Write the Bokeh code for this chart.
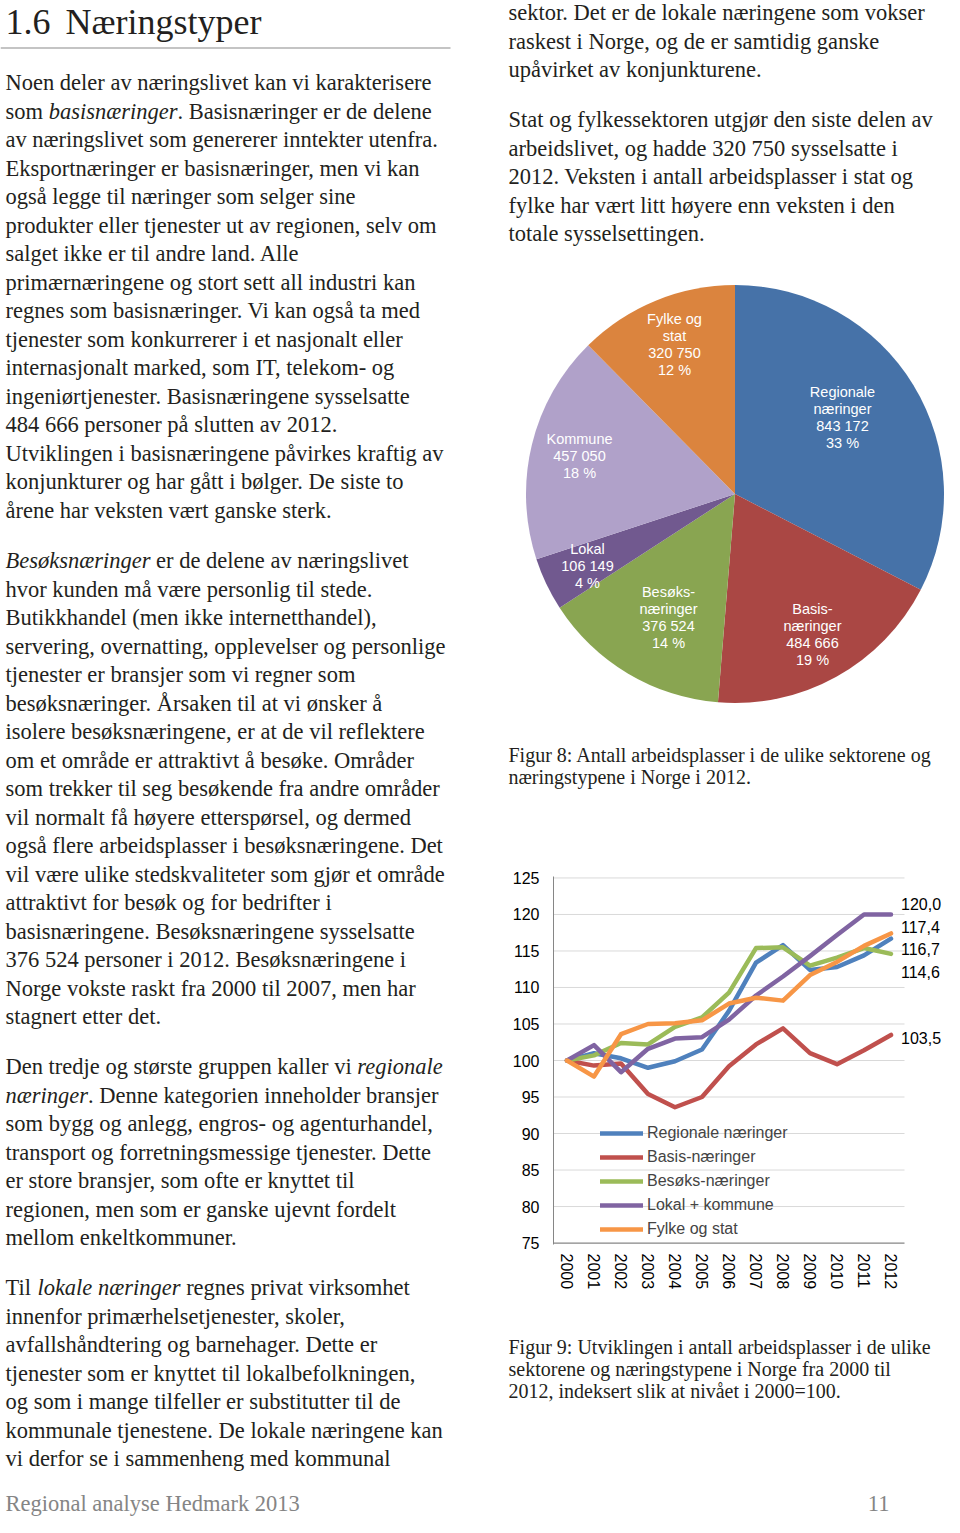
import math
import numpy as np
from bokeh.plotting import figure
from bokeh.models import Range1d, FixedTicker
from bokeh.layouts import row, column
from bokeh.embed import file_html
from bokeh.resources import INLINE
from bokeh.core.properties import value

# ---------------- data ----------------
pie_label_names = [["Regionale", "næringer"], ["Basis-", "næringer"], ["Besøks-", "næringer"],
                   ["Lokal"], ["Kommune"], ["Fylke og", "stat"]]
pie_values = [843172, 484666, 376524, 106149, 457050, 320750]
pie_percents = [33, 19, 14, 4, 18, 12]
pie_colors = ["#4672A8", "#AA4744", "#89A551", "#71598F", "#B0A1C9", "#DB843E"]

years = [2000, 2001, 2002, 2003, 2004, 2005, 2006, 2007, 2008, 2009, 2010, 2011, 2012]
regionale = [100.0, 101.0, 100.3, 99.0, 99.9, 101.5, 106.8, 113.4, 115.8, 112.4, 112.8, 114.4, 116.7]
basis = [100.0, 99.3, 99.6, 95.4, 93.6, 95.0, 99.2, 102.2, 104.4, 101.0, 99.5, 101.4, 103.5]
besoks = [100.0, 100.7, 102.4, 102.2, 104.6, 105.9, 109.3, 115.4, 115.5, 113.0, 114.1, 115.4, 114.6]
lokal_kommune = [100.0, 102.1, 98.4, 101.6, 103.0, 103.2, 105.6, 108.9, 111.5, 114.3, 117.2, 120.0, 120.0]
fylke_stat = [100.0, 97.8, 103.6, 105.0, 105.1, 105.5, 107.8, 108.6, 108.2, 111.7, 113.5, 115.7, 117.4]
series_names = ["Regionale næringer", "Basis-næringer", "Besøks-næringer", "Lokal + kommune", "Fylke og stat"]
series_colors = ["#4F81BD", "#C0504D", "#9BBB59", "#8064A2", "#F79646"]
y_ticks = [75, 80, 85, 90, 95, 100, 105, 110, 115, 120, 125]

title_num = "1.6"
title_text = "Næringstyper"
left_paras = [
    ["Noen deler av næringslivet kan vi karakterisere",
     "som *basisnæringer*. Basisnæringer er de delene",
     "av næringslivet som genererer inntekter utenfra.",
     "Eksportnæringer er basisnæringer, men vi kan",
     "også legge til næringer som selger sine",
     "produkter eller tjenester ut av regionen, selv om",
     "salget ikke er til andre land. Alle",
     "primærnæringene og stort sett all industri kan",
     "regnes som basisnæringer. Vi kan også ta med",
     "tjenester som konkurrerer i et nasjonalt eller",
     "internasjonalt marked, som IT, telekom- og",
     "ingeniørtjenester. Basisnæringene sysselsatte",
     "484 666 personer på slutten av 2012.",
     "Utviklingen i basisnæringene påvirkes kraftig av",
     "konjunkturer og har gått i bølger. De siste to",
     "årene har veksten vært ganske sterk."],
    ["*Besøksnæringer* er de delene av næringslivet",
     "hvor kunden må være personlig til stede.",
     "Butikkhandel (men ikke internetthandel),",
     "servering, overnatting, opplevelser og personlige",
     "tjenester er bransjer som vi regner som",
     "besøksnæringer. Årsaken til at vi ønsker å",
     "isolere besøksnæringene, er at de vil reflektere",
     "om et område er attraktivt å besøke. Områder",
     "som trekker til seg besøkende fra andre områder",
     "vil normalt få høyere etterspørsel, og dermed",
     "også flere arbeidsplasser i besøksnæringene. Det",
     "vil være ulike stedskvaliteter som gjør et område",
     "attraktivt for besøk og for bedrifter i",
     "basisnæringene. Besøksnæringene sysselsatte",
     "376 524 personer i 2012. Besøksnæringene i",
     "Norge vokste raskt fra 2000 til 2007, men har",
     "stagnert etter det."],
    ["Den tredje og største gruppen kaller vi *regionale*",
     "*næringer*. Denne kategorien inneholder bransjer",
     "som bygg og anlegg, engros- og agenturhandel,",
     "transport og forretningsmessige tjenester. Dette",
     "er store bransjer, som ofte er knyttet til",
     "regionen, men som er ganske ujevnt fordelt",
     "mellom enkeltkommuner."],
    ["Til *lokale næringer* regnes privat virksomhet",
     "innenfor primærhelsetjenester, skoler,",
     "avfallshåndtering og barnehager. Dette er",
     "tjenester som er knyttet til lokalbefolkningen,",
     "og som i mange tilfeller er substitutter til de",
     "kommunale tjenestene. De lokale næringene kan",
     "vi derfor se i sammenheng med kommunal"],
]
right_paras = [
    ["sektor. Det er de lokale næringene som vokser",
     "raskest i Norge, og de er samtidig ganske",
     "upåvirket av konjunkturene."],
    ["Stat og fylkessektoren utgjør den siste delen av",
     "arbeidslivet, og hadde 320 750 sysselsatte i",
     "2012. Veksten i antall arbeidsplasser i stat og",
     "fylke har vært litt høyere enn veksten i den",
     "totale sysselsettingen."],
]
caption8 = ["Figur 8: Antall arbeidsplasser i de ulike sektorene og",
            "næringstypene i Norge i 2012."]
caption9 = ["Figur 9: Utviklingen i antall arbeidsplasser i de ulike",
            "sektorene og næringstypene i Norge fra 2000 til",
            "2012, indeksert slik at nivået i 2000=100."]
footer_text = "Regional analyse Hedmark 2013"
page_number = "11"

# ---------------- layout helpers ----------------
SERIF = value("Liberation Serif")
SANS = value("Liberation Sans")
INK = "#231F20"
BODY = 22.5
LEAD = 28.53

REG = {' ': 250, '(': 333, ')': 333, ',': 250, '-': 333, '.': 250, ':': 278, '=': 564}
for ch in "0123456789":
    REG[ch] = 500
REG.update(dict(zip("ABCDEFGHIJKLMNOPQRSTUVWXYZ",
                    [722, 667, 667, 722, 611, 556, 722, 722, 333, 389, 722, 611, 889, 722, 722, 556, 722,
                     667, 556, 611, 722, 722, 944, 722, 722, 611])))
REG.update({'Å': 722, 'Ø': 722, 'Æ': 889})
REG.update(dict(zip("abcdefghijklmnopqrstuvwxyz",
                    [444, 500, 444, 500, 444, 333, 500, 500, 278, 278, 500, 278, 778, 500, 500, 500, 500,
                     333, 389, 278, 500, 500, 722, 500, 500, 444])))
REG.update({'æ': 667, 'ø': 500, 'å': 444})
ITA = dict(REG)
ITA.update(dict(zip("abcdefghijklmnopqrstuvwxyz",
                    [500, 500, 444, 500, 444, 278, 500, 500, 278, 278, 444, 278, 722, 500, 500, 500, 500,
                     389, 389, 278, 500, 444, 667, 444, 444, 389])))
ITA.update({'æ': 667, 'ø': 500, 'å': 500, 'B': 611})


def width(s, italic, size):
    tab = ITA if italic else REG
    return sum(tab.get(c, 500) for c in s) * size / 1000.0


def text_fig(w, h, x0, x1, ytop, ybot):
    p = figure(width=w, height=h, x_range=Range1d(x0, x1), y_range=Range1d(-ybot, -ytop),
               output_backend="svg", toolbar_location=None, min_border=0,
               x_axis_location=None, y_axis_location=None)
    p.grid.visible = False
    p.outline_line_color = None
    p.frame_align = False
    return p


def add_para(p, x, y0, lines, size=BODY, lead=LEAD, color=INK):
    nx, ny, nt, ix, iy, it = [], [], [], [], [], []
    for k, line in enumerate(lines):
        y = -(y0 + k * lead)
        cx = x
        for j, seg in enumerate(line.split("*")):
            if not seg:
                continue
            italic = (j % 2 == 1)
            stripped = seg.lstrip(" ")
            cx += width(seg[:len(seg) - len(stripped)], italic, size)
            if italic:
                ix.append(cx); iy.append(y); it.append(stripped)
            else:
                nx.append(cx); ny.append(y); nt.append(stripped)
            cx += width(stripped, italic, size)
    fs = "%gpx" % size
    if nt:
        p.text(x=nx, y=ny, text=nt, text_font=SERIF, text_font_size=fs, text_color=color,
               text_baseline="middle", text_align="left")
    if it:
        p.text(x=ix, y=iy, text=it, text_font=SERIF, text_font_size=fs, text_color=color,
               text_baseline="middle", text_align="left", text_font_style="italic")


TOP, BOT = 0, 1517

# ---------------- left column ----------------
left = text_fig(505, 1517, 0, 505, TOP, BOT)
left.text(x=[5, 65], y=[-21, -21], text=[title_num, title_text], text_font=SERIF,
          text_font_size="36px", text_color=INK, text_baseline="middle")
left.line(x=[0, 450], y=[-47.5, -47.5], line_color="#C4C4C4", line_width=2)
for start, para in zip([82, 560, 1066, 1287], left_paras):
    add_para(left, 5, start, para)
left.text(x=[5], y=[-1503], text=[footer_text], text_font=SERIF, text_font_size="22.5px",
          text_color="#858585", text_baseline="middle")

# ---------------- right top: text + pie ----------------
rt = text_fig(439, 840, 519, 958, TOP, 840)
add_para(rt, 522, 12, right_paras[0])
add_para(rt, 522, 119, right_paras[1])
add_para(rt, 522, 754, caption8, size=20, lead=22)

cx, cy, rad = 748.5, 493.5, 209
total = float(sum(pie_values))
cum = np.concatenate([[0.0], np.cumsum(np.array(pie_values) / total)])
start_a = np.pi / 2 - 2 * np.pi * cum[:-1]
end_a = np.pi / 2 - 2 * np.pi * cum[1:]
rt.wedge(x=cx, y=-cy, radius=rad, start_angle=start_a, end_angle=end_a, direction="clock",
         fill_color=pie_colors, line_color=None)

label_anchor = [(856, 391), (826, 608), (682, 591), (601, 548), (593, 438), (688, 318)]
lx, ly, lt = [], [], []
for names, v, pc, (ax, ay) in zip(pie_label_names, pie_values, pie_percents, label_anchor):
    lines = names + ["{:,}".format(v).replace(",", " "), "%d %%" % pc]
    for k, s in enumerate(lines):
        lx.append(ax); ly.append(-(ay + 17 * k)); lt.append(s)
rt.text(x=lx, y=ly, text=lt, text_font=SANS, text_font_size="14.5px", text_color="white",
        text_align="center", text_baseline="middle")

# ---------------- line chart ----------------
px_per_year = 27.0
lp = figure(width=439, height=480, x_range=Range1d(1999.5, 1999.5 + 391 / px_per_year),
            y_range=Range1d(74.8, 125.2), output_backend="svg", toolbar_location=None,
            min_border_left=48, min_border_right=0, min_border_top=36, min_border_bottom=76)
lp.frame_align = False
lp.outline_line_color = None
lp.grid.visible = False
lp.xaxis.ticker = FixedTicker(ticks=years)
lp.xaxis.major_label_orientation = -math.pi / 2
lp.xaxis.axis_line_color = None
lp.yaxis.ticker = FixedTicker(ticks=y_ticks)
lp.yaxis.axis_line_color = "#868686"
for ax in (lp.xaxis, lp.yaxis):
    ax.major_tick_line_color = None
    ax.minor_tick_line_color = None
    ax.major_label_text_font = "Liberation Sans"
    ax.major_label_text_font_size = "16px"
    ax.major_label_text_color = "black"
lp.yaxis.major_label_standoff = 8
lp.xaxis.major_label_standoff = 3

x_lo, x_hi = years[0] - 0.5, years[-1] + 0.5
lp.segment(x0=x_lo, y0=y_ticks[1:], x1=x_hi, y1=y_ticks[1:], line_color="#D9D9D9", line_width=1)
lp.segment(x0=[x_lo], y0=[y_ticks[0]], x1=[x_hi], y1=[y_ticks[0]], line_color="#868686", line_width=1.2)

all_series = [regionale, basis, besoks, lokal_kommune, fylke_stat]
for name, ys, col in zip(series_names, all_series, series_colors):
    lp.line(years, ys, line_color=col, line_width=4.5, line_join="round", line_cap="round",
            legend_label=name)

leg = lp.legend[0]
leg.location = (47, 5)
leg.padding = 0
leg.margin = 0
leg.border_line_color = None
leg.background_fill_alpha = 0
leg.label_text_font = "Liberation Sans"
leg.label_text_font_size = "16px"
leg.glyph_width = 43
leg.glyph_height = 20
leg.label_height = 20
leg.spacing = 4
leg.label_standoff = 4

# end-of-line value labels, spread so they do not overlap
last = [s[-1] for s in all_series]
order = sorted(range(len(last)), key=lambda i: -last[i])
gap = 3.1
groups = [[order[0]]]
for i in order[1:]:
    if last[groups[-1][-1]] - last[i] < gap:
        groups[-1].append(i)
    else:
        groups.append([i])
lab_y = [0.0] * len(last)
for g in groups:
    m = sum(last[i] for i in g) / len(g) - 0.4
    n = len(g)
    for k, i in enumerate(g):
        lab_y[i] = m + gap * ((n - 1) / 2.0 - k)
lab_txt = [("%.1f" % v).replace(".", ",") for v in last]
lp.text(x=[years[-1] + 0.37] * len(last), y=lab_y, text=lab_txt, text_font=SANS,
        text_font_size="16px", text_color="black", text_align="left", text_baseline="middle")

# ---------------- right bottom: caption + page number ----------------
rb = text_fig(439, 197, 519, 958, 1320, BOT)
add_para(rb, 522, 1346, caption9, size=20, lead=22)
rb.text(x=[903], y=[-1503], text=[page_number], text_font=SERIF, text_font_size="22.5px",
        text_color="#858585", text_align="right", text_baseline="middle")

right_col = column(rt, lp, rb, spacing=0)
layout = row(left, right_col, spacing=0)
open("out.html", "w").write(file_html(layout, INLINE))
